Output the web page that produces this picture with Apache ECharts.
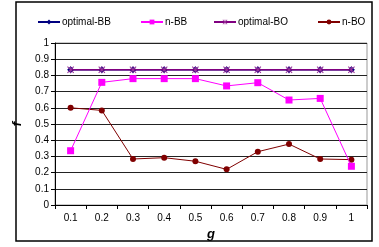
<!DOCTYPE html>
<html><head><meta charset="utf-8">
<script src="https://cdn.jsdelivr.net/npm/echarts@6/dist/echarts.min.js"></script>
<style>html,body{margin:0;padding:0;background:#fff}#c{width:379px;height:247px}</style>
</head><body><div id="c"></div>
<script>
const categories = ['0.1','0.2','0.3','0.4','0.5','0.6','0.7','0.8','0.9','1'];
const optimalBB = [0.835,0.835,0.835,0.835,0.835,0.835,0.835,0.835,0.835,0.835];
const nBB = [0.335,0.757,0.78,0.78,0.78,0.735,0.755,0.648,0.658,0.239];
const optimalBO = [0.835,0.835,0.835,0.835,0.835,0.835,0.835,0.835,0.835,0.835];
const nBO = [0.6,0.584,0.284,0.292,0.27,0.22,0.329,0.376,0.284,0.28];
const seriesNames = ['optimal-BB','n-BB','optimal-BO','n-BO'];

const font = 'Liberation Sans, Arial, sans-serif';
const xPath = 'path://M0,1 L1,0 L5,4 L9,0 L10,1 L6,5 L10,9 L9,10 L5,6 L1,10 L0,9 L4,5 Z M4.4,0 L5.6,0 L5.6,10 L4.4,10 Z';
const legendLefts = [32,135,208,312];
const chart = echarts.init(document.getElementById('c'), null, {renderer:'canvas'});
chart.setOption({
  animation:false,
  textStyle:{fontFamily:font},
  graphic:[{type:'rect',shape:{x:16,y:2,width:356,height:239},style:{fill:'none',stroke:'#000',lineWidth:1.5},z:-1}],
  legend:seriesNames.map((n,i)=>({
    top:12,left:legendLefts[i],itemWidth:22,itemHeight:6,
    textStyle:{fontFamily:font,fontSize:10,color:'#000',padding:[0,0,0,-3]},
    data:[n]
  })),
  grid:{left:55,right:12,top:43,bottom:42,show:true,borderColor:'#999',borderWidth:1,backgroundColor:'#fff'},
  xAxis:{
    type:'category',data:categories,boundaryGap:true,
    name:'g',nameLocation:'middle',nameGap:22,
    nameTextStyle:{fontFamily:font,fontSize:13,fontWeight:'bold',fontStyle:'italic',color:'#000'},
    axisLine:{lineStyle:{color:'#000',width:1}},
    axisTick:{show:true,length:4,lineStyle:{color:'#000'}},
    axisLabel:{color:'#000',fontSize:10,fontFamily:font,margin:8},
    splitLine:{show:false}
  },
  yAxis:{
    type:'value',min:0,max:1,interval:0.1,
    name:'f',nameLocation:'middle',nameGap:28,
    nameTextStyle:{fontFamily:font,fontSize:13,fontWeight:'bold',fontStyle:'italic',color:'#000'},
    axisLine:{show:true,lineStyle:{color:'#000',width:1}},
    axisTick:{show:true,length:4,lineStyle:{color:'#000'}},
    axisLabel:{color:'#000',fontSize:10,fontFamily:font,margin:6},
    splitLine:{show:true,lineStyle:{color:'#222',width:1}}
  },
  series:[
    {name:'n-BO',type:'line',data:nBO,symbol:'circle',symbolSize:6,
     itemStyle:{color:'#800000'},lineStyle:{color:'#800000',width:1},z:3},
    {name:'n-BB',type:'line',data:nBB,symbol:'rect',symbolSize:7,
     itemStyle:{color:'#FF00FF'},lineStyle:{color:'#FF00FF',width:1},z:4},
    {name:'optimal-BB',type:'line',data:optimalBB,symbol:'diamond',symbolSize:7,
     itemStyle:{color:'#000080'},lineStyle:{color:'#000080',width:1.5},z:5},
    {name:'optimal-BO',type:'line',data:optimalBO,symbol:xPath,symbolSize:7,
     itemStyle:{color:'#993399'},lineStyle:{color:'#800080',width:1.5},z:6}
  ]
});
</script></body></html>
